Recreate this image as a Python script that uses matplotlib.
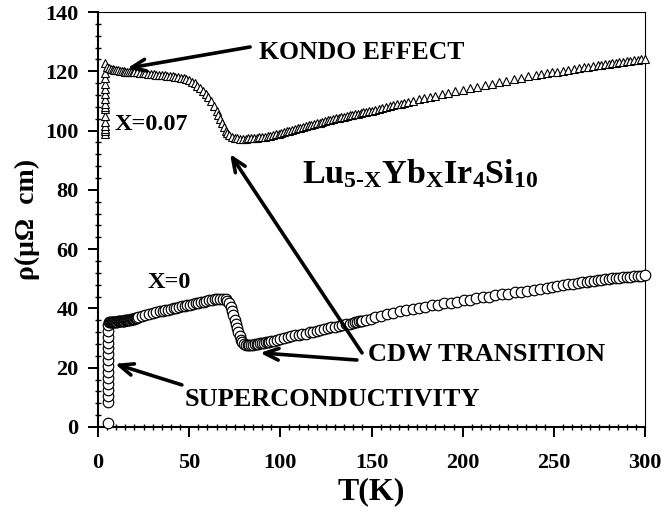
import matplotlib
matplotlib.use("Agg")
import matplotlib.pyplot as plt
from matplotlib.ticker import MultipleLocator

plt.rcParams['font.family'] = ['Liberation Serif', 'DejaVu Serif']
plt.rcParams['font.weight'] = 'bold'
plt.rcParams['mathtext.fontset'] = 'custom'
plt.rcParams['mathtext.rm'] = 'Liberation Serif:bold'
plt.rcParams['mathtext.bf'] = 'Liberation Serif:bold'
plt.rcParams['mathtext.it'] = 'Liberation Serif:bold'

# ---- data: X = 0 (circles) ----
T_x0 = [5.5]*15 + [
    6, 6.5, 7, 7.5, 8, 8.5, 9, 9.5, 10, 10.5, 11, 11.5, 12, 12.5, 13, 13.5, 14, 14.5,
    15, 15.5, 16, 16.5, 17, 17.5, 18, 18.5, 19, 19.5, 20, 20.5, 21, 21.5, 22,
    24, 26, 28, 30, 32, 34,
    35.5, 37, 38.5, 40, 41.5, 43, 44.5, 46, 47.5, 49, 50.5, 52, 53.5, 55, 56.5, 58, 59.5,
    61, 62.5, 64, 65.5, 67, 68.5, 70, 71, 72, 72.8, 73.5, 74.2, 74.9, 75.6, 76.3, 77,
    77.7, 78.4, 79.2, 80, 81, 82, 83, 84, 85, 86, 87, 88, 89, 90, 91, 92, 93, 94, 95,
    96.5, 98, 100, 102, 104, 106, 108, 110, 112, 114, 116, 118, 120, 122, 124, 126,
    128, 130, 132, 134, 136, 138, 140, 141, 142, 143, 144, 145, 147, 149.5, 152, 155,
    158.5, 162, 165.5, 169, 172.5, 176, 179.5, 183, 186.5, 190, 193.5, 197, 200.5, 204,
    207.5, 211, 214.5, 218, 221.5, 225, 228.5, 232, 235.5, 239, 242.5, 246, 249, 252,
    255, 258, 260.5, 263, 265.5, 268, 270, 272, 274, 276, 278, 280, 282, 284, 286,
    288, 290, 292, 294, 296, 298, 300]
rho_x0 = [1.5, 8.5, 10.5, 12.5, 14.5, 16.5, 18.5, 20.5, 22.5, 24.5, 26.5, 28.5, 30.5,
          32.5, 34.5] + [
    35.3, 35.3, 35.4, 35.4, 35.4, 35.4, 35.5, 35.5, 35.5, 35.5, 35.6, 35.6, 35.7, 35.7,
    35.8, 35.8, 35.9, 35.9, 36.0, 36.0, 36.1, 36.1, 36.2, 36.2, 36.3, 36.3, 36.4, 36.5,
    36.6, 36.7, 36.8, 36.9, 37.0,
    37.3, 37.7, 38.0, 38.4, 38.7, 39.0,
    39.2, 39.4, 39.6, 39.8, 40.0, 40.3, 40.5, 40.7, 40.9, 41.1, 41.3, 41.5, 41.7, 41.9,
    42.1, 42.3, 42.5, 42.7, 42.9, 43.1, 43.2, 43.3, 43.3, 43.1, 42.6, 41.8, 40.6, 39.2,
    37.7, 36.2, 34.7, 33.3, 31.9, 30.6, 29.5, 28.6, 28.0, 27.6, 27.5, 27.6, 27.7, 27.8,
    27.9, 28.0, 28.1, 28.2, 28.4, 28.5, 28.6, 28.7, 28.8, 28.9, 29.1, 29.3, 29.6, 29.9,
    30.2, 30.6, 30.9, 31.1, 31.3, 31.5, 31.9, 32.2, 32.5, 32.8, 33.0, 33.3, 33.6, 33.8,
    34.1, 34.4, 34.6, 34.9, 35.1, 35.3, 35.4, 35.6, 35.8, 35.9, 36.2, 36.6, 37.0, 37.5,
    38.0, 38.5, 39.0, 39.4, 39.8, 40.2, 40.6, 41.0, 41.3, 41.7, 42.0, 42.3, 42.7, 43.0,
    43.4, 43.7, 44.0, 44.4, 44.7, 45.0, 45.4, 45.7, 46.0, 46.3, 46.7, 47.0, 47.3, 47.6,
    47.9, 48.2, 48.4, 48.6, 48.8, 49.0, 49.2, 49.3, 49.5, 49.6, 49.8, 49.9, 50.1, 50.2,
    50.4, 50.5, 50.6, 50.7, 50.9, 51.0, 51.1, 51.3]

# ---- data: X = 0.07 (triangles) ----
T_x007 = [4.0]*16 + [
    5, 6, 7, 8, 9, 10, 11, 12, 13, 14, 15, 16, 17, 18, 19, 20, 21.5, 23, 24.5, 26,
    27.5, 29, 30.5, 32, 33.5, 35, 36.5, 38, 39.5, 41, 42.5, 44, 45.5, 47, 48.5, 50,
    51.5, 53, 54.5, 56, 57.5, 59, 60.5, 62, 63.5, 65, 66, 67, 68, 69, 70, 71, 72, 73.5,
    75, 76.5, 78, 79.5, 81, 82.5, 84, 85.5, 87, 88.5, 90, 91.5, 93, 94.5, 96, 97.5, 99,
    100.5, 102, 103.5, 105, 106.5, 108, 109.5, 111, 112.5, 114, 115.5, 117, 118.5, 120,
    121.5, 123, 124.5, 126, 127.5, 129, 130.5, 132, 133.5, 135, 136.5, 138, 139.5, 141,
    142.5, 144, 145.5, 147, 148.5, 150, 152, 154, 156, 158, 160, 162, 164, 166, 168,
    170, 173, 176, 179, 182, 185, 188.5, 192, 196, 200, 204, 208, 212, 216, 220, 224,
    228, 232, 236, 240, 243, 246, 249, 252, 255, 258, 261, 264, 266.5, 269, 271.5, 274,
    276, 278, 280, 282, 284, 286, 288, 290, 292, 294, 296, 298, 300]
rho_x007 = [99.0, 99.8, 100.6, 101.5, 103.0, 105.0, 107.2, 108.0, 108.8, 110.5, 112.3,
            114.0, 115.8, 117.6, 119.5, 122.8] + [
    121.6, 121.2, 120.9, 120.7, 120.5, 120.4, 120.3, 120.2, 120.1, 120.0, 119.9, 119.9,
    119.8, 119.8, 119.7, 119.7, 119.6, 119.5, 119.4, 119.3, 119.2, 119.1, 119.0, 118.9,
    118.8, 118.7, 118.6, 118.5, 118.4, 118.3, 118.1, 118.0, 117.8, 117.6, 117.3, 117.0,
    116.5, 115.9, 115.2, 114.4, 113.5, 112.4, 111.2, 109.9, 108.4, 106.7, 105.3, 103.8,
    102.4, 101.1, 100.0, 99.1, 98.5, 97.9, 97.6, 97.4, 97.3, 97.3, 97.3, 97.4, 97.4,
    97.5, 97.6, 97.7, 97.8, 98.0, 98.1, 98.3, 98.5, 98.8, 99.0, 99.3, 99.5, 99.8, 100.0,
    100.3, 100.5, 100.8, 101.0, 101.3, 101.5, 101.8, 102.0, 102.3, 102.5, 102.7, 103.0,
    103.2, 103.5, 103.7, 103.9, 104.1, 104.3, 104.5, 104.7, 104.9, 105.1, 105.3, 105.5,
    105.7, 105.9, 106.1, 106.3, 106.5, 106.7, 107.0, 107.3, 107.6, 107.9, 108.2, 108.5,
    108.8, 109.1, 109.4, 109.7, 110.1, 110.5, 110.9, 111.3, 111.7, 112.2, 112.7, 113.2,
    113.8, 114.3, 114.8, 115.3, 115.8, 116.3, 116.8, 117.3, 117.8, 118.3, 118.7, 119.0,
    119.3, 119.6, 119.9, 120.2, 120.5, 120.8, 121.1, 121.3, 121.5, 121.8, 122.0, 122.2,
    122.4, 122.6, 122.8, 122.9, 123.1, 123.3, 123.4, 123.6, 123.8, 123.9, 124.1, 124.3]

x_ticks = [0, 50, 100, 150, 200, 250, 300]
y_ticks = [0, 20, 40, 60, 80, 100, 120, 140]

fig = plt.figure(figsize=(6.62, 5.14), dpi=100)
ax = fig.add_axes([98/662, 87/514, 547/662, 415/514])

ax.plot(T_x0, rho_x0, linestyle='none', marker='o', markersize=7.6,
        markerfacecolor='white', markeredgecolor='black', markeredgewidth=0.85,
        clip_on=False, zorder=3)
ax.plot(T_x007, rho_x007, linestyle='none', marker='^', markersize=6.2,
        markerfacecolor='white', markeredgecolor='black', markeredgewidth=0.8,
        clip_on=False, zorder=3)

ax.set_xlim(0, 300)
ax.set_ylim(0, 140)
ax.set_xticks(x_ticks)
ax.set_yticks(y_ticks)
ax.xaxis.set_minor_locator(MultipleLocator(5))
ax.yaxis.set_minor_locator(MultipleLocator(4))
ax.tick_params(which='major', direction='out', length=7, width=1.4,
               labelsize=16, top=False, right=False)
ax.tick_params(axis='y', which='major', pad=7)
ax.tick_params(axis='x', which='major', pad=12)
ax.tick_params(which='minor', direction='inout', length=5, width=1.0,
               top=False, right=False)
for lab in ax.get_xticklabels() + ax.get_yticklabels():
    lab.set_fontweight('bold')

ax.spines['left'].set_linewidth(1.5)
ax.spines['bottom'].set_linewidth(1.5)
ax.spines['top'].set_linewidth(0.8)
ax.spines['right'].set_linewidth(0.8)

ax.set_xlabel('T(K)', fontsize=23, fontweight='bold', labelpad=3)
ax.set_ylabel('ρ(μΩ  cm)', fontsize=20, fontweight='bold', labelpad=4)

# annotations
ax.text(88.3, 126.5, 'KONDO EFFECT', fontsize=18.5, fontweight='bold', va='center', ha='left')
ax.text(9.3, 101.9, 'X=0.07', fontsize=17.5, fontweight='bold', va='center', ha='left')
ax.text(112.0, 82.2, r'$\mathrm{Lu_{5\text{-}X}Yb_{X}Ir_{4}Si_{10}}$', fontsize=24.5,
        va='baseline', ha='left')
ax.text(26.9, 48.9, 'X=0', fontsize=17.5, fontweight='bold', va='center', ha='left')
ax.text(148, 24.3, 'CDW TRANSITION', fontsize=19, fontweight='bold', va='center', ha='left')
ax.text(47.7, 9.4, 'SUPERCONDUCTIVITY', fontsize=19, fontweight='bold', va='center', ha='left')

aprops = dict(arrowstyle='->,head_length=1.0,head_width=0.42', lw=2.6, color='black',
              shrinkA=0, shrinkB=0)
ax.annotate('', xy=(16, 121), xytext=(83.4, 128.2), arrowprops=aprops)
ax.annotate('', xy=(72.4, 92.1), xytext=(144.8, 25), arrowprops=aprops)
ax.annotate('', xy=(88.9, 25), xytext=(142, 22.6), arrowprops=aprops)
ax.annotate('', xy=(9.3, 21.3), xytext=(46, 14.2), arrowprops=aprops)

fig.savefig('out.png', dpi=100)
